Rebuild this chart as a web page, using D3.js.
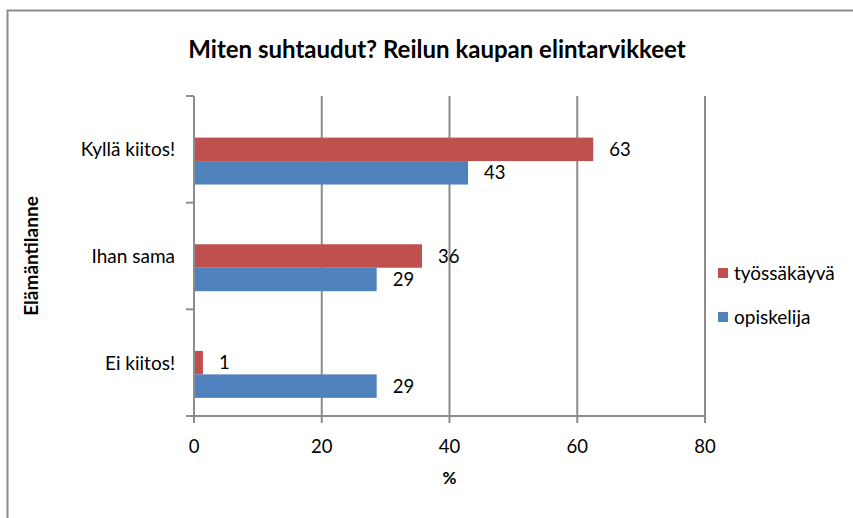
<!DOCTYPE html>
<html>
<head>
<meta charset="utf-8">
<script src="https://d3js.org/d3.v7.min.js"></script>
<style>
  body { margin: 0; background: #fff; }
  text { font-family: Lato, "Open Sans", sans-serif; fill: #000; }
</style>
</head>
<body>
<div id="chart"></div>
<script>
// data (percent; labels are rounded)
const categories = ["Kyllä kiitos!", "Ihan sama", "Ei kiitos!"];
const seriesNames = ["työssäkäyvä", "opiskelija"];
const tyossakayva = [62.5, 35.7, 1.4];
const opiskelija = [42.9, 28.6, 28.6];
const xTicks = [0, 20, 40, 60, 80];
const colors = ["#C0504D", "#4F81BD"];

const width = 853, height = 518;
const plot = { left: 194, right: 705, top: 96, bottom: 416 };
const fmt = d3.format(".0f");

const svg = d3.select("#chart").append("svg")
  .attr("width", width).attr("height", height);

// outer frame
svg.append("rect")
  .attr("x", 7.5).attr("y", 10.5)
  .attr("width", width).attr("height", height)
  .attr("fill", "none").attr("stroke", "#8c8c8c").attr("stroke-width", 2);

const x = d3.scaleLinear().domain([0, 80]).range([plot.left, plot.right]);
const y = d3.scaleBand().domain(categories).range([plot.top, plot.bottom]);
const bw = y.bandwidth();
const ySub = d3.scaleBand().domain(seriesNames).range([bw * 0.39, bw * 0.83]);

// gridlines
svg.append("g").selectAll("line")
  .data(xTicks.slice(1))
  .join("line")
  .attr("x1", d => x(d)).attr("x2", d => x(d))
  .attr("y1", plot.top).attr("y2", plot.bottom)
  .attr("stroke", "#8c8c8c").attr("stroke-width", 2);

// bars
const rows = categories.map((c, i) => ({ cat: c, vals: [tyossakayva[i], opiskelija[i]] }));
const groups = svg.append("g").selectAll("g")
  .data(rows).join("g")
  .attr("transform", d => `translate(0,${y(d.cat)})`);

groups.selectAll("rect")
  .data(d => d.vals.map((v, j) => ({ s: seriesNames[j], v, j })))
  .join("rect")
  .attr("x", x(0))
  .attr("y", d => ySub(d.s))
  .attr("width", d => x(d.v) - x(0))
  .attr("height", ySub.bandwidth())
  .attr("fill", d => colors[d.j]);

groups.selectAll("text")
  .data(d => d.vals.map((v, j) => ({ s: seriesNames[j], v, j })))
  .join("text")
  .attr("x", d => x(d.v) + 16)
  .attr("y", d => ySub(d.s) + ySub.bandwidth() / 2)
  .attr("dy", "0.36em")
  .attr("font-size", 18.5)
  .text(d => fmt(d.v));

// y axis
const yAxis = svg.append("g")
  .attr("transform", `translate(${plot.left},0)`);
yAxis.append("line")
  .attr("x1", 0).attr("x2", 0)
  .attr("y1", plot.top).attr("y2", plot.bottom + 7)
  .attr("stroke", "#8c8c8c").attr("stroke-width", 2);
const yTickPos = categories.map(c => y(c)).concat([plot.bottom]);
yAxis.selectAll("line.tick")
  .data(yTickPos).join("line").attr("class", "tick")
  .attr("x1", -8).attr("x2", 0)
  .attr("y1", d => d).attr("y2", d => d)
  .attr("stroke", "#8c8c8c").attr("stroke-width", 2);
yAxis.selectAll("text")
  .data(categories).join("text")
  .attr("x", -19)
  .attr("y", d => y(d) + bw / 2)
  .attr("dy", "0.36em")
  .attr("text-anchor", "end")
  .attr("font-size", 19)
  .text(d => d);

// x axis
const xAxis = svg.append("g");
xAxis.append("line")
  .attr("x1", plot.left - 8).attr("x2", plot.right)
  .attr("y1", plot.bottom).attr("y2", plot.bottom)
  .attr("stroke", "#8c8c8c").attr("stroke-width", 2);
xAxis.selectAll("line.tick")
  .data(xTicks).join("line").attr("class", "tick")
  .attr("x1", d => x(d)).attr("x2", d => x(d))
  .attr("y1", plot.bottom).attr("y2", plot.bottom + 7)
  .attr("stroke", "#8c8c8c").attr("stroke-width", 2);
xAxis.selectAll("text")
  .data(xTicks).join("text")
  .attr("x", d => x(d))
  .attr("y", 453)
  .attr("text-anchor", "middle")
  .attr("font-size", 18.5)
  .text(d => d);

// axis titles
svg.append("text")
  .attr("x", x(40)).attr("y", 484)
  .attr("text-anchor", "middle")
  .attr("font-size", 17).attr("font-weight", "bold")
  .text("%");
svg.append("text")
  .attr("transform", `translate(38,${(plot.top + plot.bottom) / 2}) rotate(-90)`)
  .attr("text-anchor", "middle")
  .attr("font-size", 19).attr("font-weight", "bold")
  .text("Elämäntilanne");

// title
svg.append("text")
  .attr("x", 437).attr("y", 58)
  .attr("text-anchor", "middle")
  .attr("font-size", 24).attr("font-weight", "bold")
  .text("Miten suhtaudut? Reilun kaupan elintarvikkeet");

// legend
const legend = svg.append("g").selectAll("g")
  .data(seriesNames).join("g")
  .attr("transform", (d, i) => `translate(718,${268 + i * 44})`);
legend.append("rect")
  .attr("width", 10).attr("height", 10)
  .attr("fill", (d, i) => colors[i]);
legend.append("text")
  .attr("x", 16).attr("y", 5)
  .attr("dy", "0.36em")
  .attr("font-size", 19)
  .text(d => d);
</script>
</body>
</html>
